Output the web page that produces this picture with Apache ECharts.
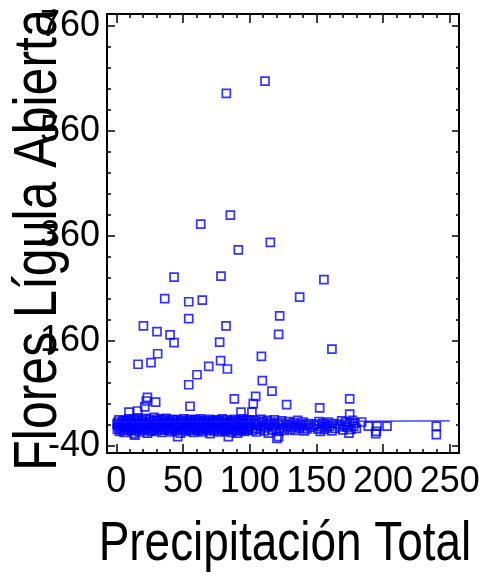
<!DOCTYPE html>
<html>
<head>
<meta charset="utf-8">
<script src="https://cdn.jsdelivr.net/npm/echarts@6/dist/echarts.min.js"></script>
<style>
html,body{margin:0;padding:0;background:#fff;}
#c{width:487px;height:577px;}
</style>
</head>
<body>
<div id="c"></div>
<script>
// ---- Data (Precipitación Total, Flores Lígula Abierta) ----
const highPoints = [
  [82.5,632],[111.5,655],[85.5,400],[63.3,383],[115.5,348],[91.5,334],
  [43.3,282],[78.5,284],[155.7,277],[36.3,241],[54.3,235],[64.5,238],
  [137.5,244],[54.3,203],[122.5,208],[20.3,189],[30.5,178],[82.3,189],
  [40.3,172],[121.7,173],[43.3,157],[77.5,158],[161.7,145],[31,136],
  [16.3,116],[26,119],[108.8,131],[78.2,123],[69.3,112],[83.3,107],
  [60.5,96],[54.3,77],[109.5,85],[116.7,65],[88.5,50],[104.5,55],
  [102.7,41],[23.3,53],[22.5,46],[29.5,44],[21.3,35],[55.3,36],
  [127.7,39],[152.5,33],[175,50],[175,21],[93.5,25],[101.7,25],
  [9.5,25],[16,27]
];
const lowPoints = [
  [14,-19],[46,-22],[84,-22],[120.5,-25],[121.7,-22],[194.5,-16],
  [174.5,-15],[153,-12],[161.7,-11],[240,-18]
];
const bandA = [
  [0.5,2],[0.8,-8],[1.2,6],[1.5,-3],[2,10],[2.4,-12],[3,1],[3.3,-6],[4,4],[4.6,-10],
  [5,8],[5.2,-2],[6,-14],[6.5,3],[7,-5],[7.3,9],[8,-1],[8.6,-9],[9,5],[9.4,12],
  [10,-4],[10.7,0],[11,7],[11.5,-11],[12,2],[12.6,-7],[13,11],[13.2,-16],[14,-3],[14.8,6],
  [15,-9],[15.5,1],[16,14],[16.4,-5],[17,8],[17.6,-13],[18,-1],[18.3,4],[19,-8],[19.7,10],
  [20,-2],[20.5,5]
];
const bandB = [
  [21,-10],[21.6,2],[22,13],[22.7,-6],[23,0],[23.4,-15],[24,7],[24.5,-3],[25,11],[25.8,-9],
  [26,3],[26.3,-12],[27,-1],[27.7,8],[28,-7],[28.4,15],[29,1],[29.6,-4],[30,9],[30.3,-11],
  [31,-2],[31.8,5],[32,-8],[32.5,12],[33,-5],[33.4,2],[34,-14],[34.9,7],[35,-1],[35.5,10],
  [36,-9],[36.6,3],[37,-4],[37.2,13],[38,0],[38.8,-10],[39,6],[39.5,-6],[40,9],[40.7,-2],
  [41,-13],[41.5,4],[42,-7],[42.3,11],[43,1],[43.8,-3],[44,7],[44.5,-11],[45,-5],[45.6,3],
  [46,10],[46.2,-8],[47,-1],[47.9,5],[48,-15],[48.5,8],[49,-4],[49.6,2]
];
const bandC = [
  [50,-9],[50.4,12],[51,0],[51.7,-6],[52,6],[52.3,-12],[53,-2],[53.8,9],[54,4],[54.5,-8],
  [55,-3],[55.6,11],[56,-10],[56.2,1],[57,7],[57.9,-5],[58,-14],[58.5,3],[59,10],[59.3,-1],
  [60,-7],[60.8,5],[61,-11],[61.5,8],[62,-3],[62.6,1],[63,12],[63.4,-9],[64,-5],[64.7,6],
  [65,-13],[65.5,3],[66,9],[66.2,-2],[67,-7],[67.8,4],[68,0],[68.4,-10],[69,7],[69.6,-4],
  [70,11],[70.3,-16],[71,2],[71.8,-6],[72,-1],[72.5,8],[73,-11],[73.4,5],[74,-3],[74.9,10],
  [75,-8],[75.5,1],[76,6],[76.6,-13],[77,-2],[77.2,9],[78,-6],[78.8,3],[79,-10],[79.5,12],
  [80,0],[80.7,-4],[81,7],[81.5,-12],[82,-7],[82.3,4],[83,10],[83.8,-2],[84,-9],[84.5,5],
  [85,-5],[85.6,1],[86,8],[86.2,-14],[87,-1],[87.9,6],[88,-8],[88.5,11],[89,2],[89.3,-11],
  [90,-4],[90.8,7],[91,-15],[91.5,3],[92,9],[92.6,-6],[93,0],[93.4,-10],[94,5],[94.7,-3],
  [95,12],[95.5,-7],[96,2],[96.2,-12],[97,8],[97.8,-2],[98,-9],[98.4,4],[99,-5],[99.6,10]
];
const bandD = [
  [100,-3],[101,6],[102,-10],[103,2],[104,-6],[104.5,9],[105,-13],[106,0],[107,5],[108,-8],
  [108.5,11],[109,-2],[110,7],[111,-11],[111.5,1],[112,-5],[113,9],[114,-15],[114.5,3],[115,-1],
  [116,6],[117,-9],[118,-3],[118.5,10],[119,2],[120,-7],[121,5],[122,-12],[123,0],[124,8],
  [125,-5],[126,-10],[127,3],[128,-2],[129,7],[130,-8],[131,1],[132,-4],[133,5],[134,-10],
  [135,-1],[136,9],[137,-6],[138,2],[139,-3],[140,6],[141,-11],[142,0],[143,-7],[144,3],
  [146,-4],[148,-1],[150,2],[151,-7],[152,7],[154,-3],[155,4],[156,-8],[157,1],[158,-5],
  [159,6],[160,-2],[162,3],[164,-6],[167,2],[168,-3],[169,8],[170,-9],[171,0],[172,6],
  [173,-4],[175,3],[176,-8],[177,9],[178,-2],[179,4],[180,-6]
];
const bandE = [
  [184,6],[189,-2],[195,-12],[195.5,-2],[203,-2],[240,-2]
];
const fitLine = [[0,6],[250,8]];

const xMajor = [0,50,100,150,200,250];
const xMinor = [10,20,30,40,60,70,80,90,110,120,130,140,160,170,180,190,210,220,230,240];
const yMajor = [-40,160,360,560,760];
const yMinor = [0,40,80,120,200,240,280,320,400,440,480,520,600,640,680,720];
const xRange = [-7,257];
const yRange = [-53,783];
const xTitle = 'Precipitación Total';
const yTitle = 'Flores Lígula Abierta';

const FONT = "'Liberation Sans',Arial,sans-serif";
const TICK_FS = 36;

const allPoints = highPoints.concat(lowPoints, bandA, bandB, bandC, bandD, bandE);

function xAx(pos, ticks, len, showLine, showLabel){
  return {
    type:'value', position:pos, min:xRange[0], max:xRange[1],
    splitLine:{show:false},
    axisLine:{show:showLine, onZero:false, lineStyle:{color:'#000', width:2}},
    axisTick:{show:true, inside:true, length:len, customValues:ticks, lineStyle:{color:'#000', width:1.5}},
    axisLabel:{show:showLabel, customValues:ticks, fontFamily:FONT, fontSize:TICK_FS, color:'#000', margin:11}
  };
}
function yAx(pos, ticks, len, showLine, showLabel){
  return {
    type:'value', position:pos, min:yRange[0], max:yRange[1],
    splitLine:{show:false},
    axisLine:{show:showLine, onZero:false, lineStyle:{color:'#000', width:2}},
    axisTick:{show:true, inside:true, length:len, customValues:ticks, lineStyle:{color:'#000', width:1.5}},
    axisLabel:{show:showLabel, customValues:ticks, fontFamily:FONT, fontSize:TICK_FS, color:'#000', margin:7}
  };
}

const chart = echarts.init(document.getElementById('c'), null, {renderer:'canvas'});
chart.setOption({
  animation:false,
  backgroundColor:'#fff',
  grid:{left:107, top:14, width:352, height:439, containLabel:false, outerBoundsMode:'none'},
  xAxis:[
    xAx('bottom', xMajor, 9, true, true),
    xAx('bottom', xMinor, 4, false, false),
    xAx('top', xMajor, 9, true, false),
    xAx('top', xMinor, 4, false, false)
  ],
  yAxis:[
    yAx('left', yMajor, 8, true, true),
    yAx('left', yMinor, 4, false, false),
    yAx('right', yMajor, 7, true, false),
    yAx('right', yMinor, 3, false, false)
  ],
  graphic:[
    {
      type:'text', x:285, y:545, scaleX:0.82, z:10,
      style:{text:xTitle, font:'56px ' + FONT, fill:'#000', align:'center', verticalAlign:'middle'}
    },
    {
      type:'text', x:39, y:240, rotation:Math.PI/2, scaleX:0.82, z:10,
      style:{text:yTitle, font:'61px ' + FONT, fill:'#000', align:'center', verticalAlign:'middle'}
    }
  ],
  series:[
    {
      type:'scatter', xAxisIndex:0, yAxisIndex:0,
      data: allPoints,
      symbol:'rect', symbolSize:8,
      itemStyle:{color:'rgba(0,0,0,0)', borderColor:'#0000ff', borderWidth:1.7},
      z:3
    },
    {
      type:'line', xAxisIndex:0, yAxisIndex:0,
      data: fitLine, showSymbol:false, symbol:'none',
      lineStyle:{color:'#1a1aff', width:1.2},
      z:4
    }
  ]
});
</script>
</body>
</html>
